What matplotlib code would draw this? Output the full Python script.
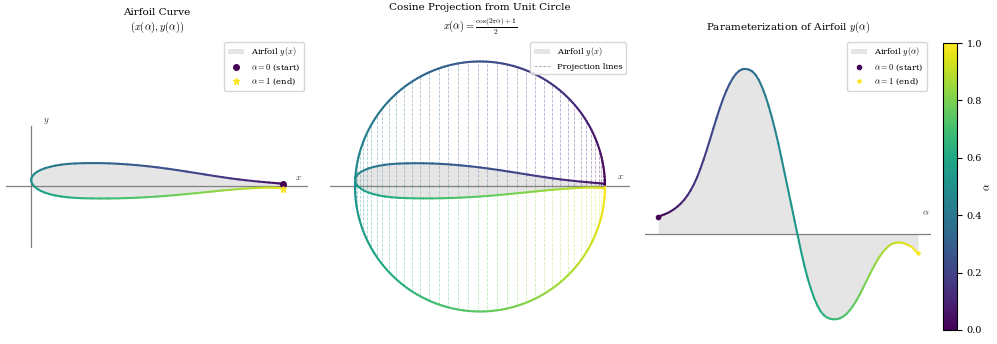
import numpy as np
import matplotlib
matplotlib.use("Agg")
import matplotlib.pyplot as plt
from matplotlib.collections import LineCollection
from matplotlib.cm import ScalarMappable
from matplotlib.colors import Normalize

plt.rcParams["font.family"] = "serif"
plt.rcParams["mathtext.fontset"] = "cm"

# =========================
# DATA
# =========================

# curve parameter, step 0.0125
alpha = np.arange(81) / 80

# airfoil height y(alpha)
y_alpha = [
    0.0100, 0.0106, 0.0113, 0.0121, 0.0131, 0.0143, 0.0157, 0.0174, 0.0194, 0.0218,
    0.0247, 0.0281, 0.0321, 0.0368, 0.0420, 0.0476, 0.0535, 0.0595, 0.0654, 0.0710,
    0.0762, 0.0807, 0.0846, 0.0878, 0.0903, 0.0920, 0.0929, 0.0930, 0.0926, 0.0916,
    0.0897, 0.0868, 0.0828, 0.0780, 0.0723, 0.0659, 0.0588, 0.0511, 0.0426, 0.0339,
    0.0252, 0.0165, 0.0078, -0.0009, -0.0095, -0.0175, -0.0245, -0.0305, -0.0357, -0.0399,
    -0.0432, -0.0454, -0.0467, -0.0474, -0.0477, -0.0476, -0.0471, -0.0461, -0.0446, -0.0426,
    -0.0401, -0.0372, -0.0339, -0.0303, -0.0266, -0.0229, -0.0193, -0.0159, -0.0129, -0.0103,
    -0.0082, -0.0064, -0.0053, -0.0047, -0.0045, -0.0047, -0.0052, -0.0060, -0.0071, -0.0087,
    -0.0107,
]

N_PROJ = 80

cmap = plt.get_cmap("viridis")
FILL = dict(color="gray", alpha=0.2, lw=0)
AXIS = dict(color="#808080", lw=0.9)


def x_of(a):
    # x(alpha) = (cos(2 pi alpha) + 1) / 2, as in the chart title
    return (np.cos(2 * np.pi * np.asarray(a)) + 1) / 2


def colored_line(ax, x, y, a, lw=1.5):
    pts = np.column_stack([x, y]).reshape(-1, 1, 2)
    segs = np.concatenate([pts[:-1], pts[1:]], axis=1)
    a = np.asarray(a)
    lc = LineCollection(segs, colors=cmap((a[:-1] + a[1:]) / 2), linewidths=lw,
                        capstyle="round", joinstyle="round")
    ax.add_collection(lc)
    return lc


y_alpha = np.array(y_alpha)
x_alpha = x_of(alpha)

fig = plt.figure(figsize=(9.97, 3.44), dpi=100)

bottom, height = 0.0262, 0.8634
ax1 = fig.add_axes([0.006, bottom, 0.3029, height])
ax2 = fig.add_axes([0.331, bottom, 0.3009, height])
ax3 = fig.add_axes([0.647, bottom, 0.2869, height])
cax = fig.add_axes([0.9458, 0.0407, 0.014, 0.834])

# =========================
# PANEL 1 - airfoil curve
# =========================

ax1.fill(x_alpha, y_alpha, label="Airfoil $y(x)$", **FILL)
colored_line(ax1, x_alpha, y_alpha, alpha)
ax1.plot([-0.1, 1.1], [0, 0], zorder=0, **AXIS)
ax1.plot([0, 0], [-0.24, 0.24], zorder=0, **AXIS)
ax1.plot(x_alpha[0], y_alpha[0], "o", color=cmap(0.0), ms=4,
         label=r"$\alpha = 0$ (start)", zorder=5)
ax1.plot(x_alpha[-1], y_alpha[-1], "*", color=cmap(1.0), ms=4.5,
         label=r"$\alpha = 1$ (end)", zorder=5)
ax1.text(1.06, 0.037, "$x$", fontsize=6.5, color="#333333", ha="center", va="center")
ax1.text(0.061, 0.259, "$y$", fontsize=6.5, color="#333333", ha="center", va="center")
ax1.set_xlim(-0.1, 1.1)
ax1.set_ylim(-0.3, 0.3)
ax1.set_aspect("equal", adjustable="datalim")
ax1.set_title("Airfoil Curve\n$(x(\\alpha), y(\\alpha))$", fontsize=7.5)
ax1.legend(loc="upper right", fontsize=6)
ax1.axis("off")

# =========================
# PANEL 2 - cosine projection
# =========================

t = np.linspace(0, 1, 241)
colored_line(ax2, x_of(t), 0.5 * np.sin(2 * np.pi * t), t)

a_proj = np.linspace(0, 1, N_PROJ)
for i, a in enumerate(a_proj):
    ax2.plot([x_of(a), x_of(a)], [0, 0.5 * np.sin(2 * np.pi * a)],
             ls="--", lw=0.6, color=cmap(a), alpha=0.4, zorder=1,
             label="Projection lines" if i == 0 else None)

ax2.fill(x_alpha, y_alpha, label="Airfoil $y(x)$", zorder=2, **FILL)
colored_line(ax2, x_alpha, y_alpha, alpha)
ax2.plot([-0.1, 1.1], [0, 0], zorder=0, **AXIS)
ax2.text(1.06, 0.038, "$x$", fontsize=6.5, color="#333333", ha="center", va="center")
ax2.set_xlim(-0.1, 1.1)
ax2.set_ylim(-0.55, 0.55)
ax2.set_aspect("equal", adjustable="datalim")
ax2.set_title("Cosine Projection from Unit Circle\n"
              r"$x(\alpha) = \frac{\cos(2\pi\alpha) + 1}{2}$", fontsize=7.5)
h, l = ax2.get_legend_handles_labels()
ax2.legend([h[1], h[0]], [l[1], l[0]], loc="upper right", fontsize=6)
ax2.axis("off")

# =========================
# PANEL 3 - y(alpha)
# =========================

ax3.fill_between(alpha, y_alpha, 0, label=r"Airfoil $y(\alpha)$", **FILL)
colored_line(ax3, alpha, y_alpha, alpha)
ax3.axhline(0, zorder=0, **AXIS)
ax3.plot(alpha[0], y_alpha[0], "o", color=cmap(0.0), ms=3,
         label=r"$\alpha = 0$ (start)", zorder=5)
ax3.plot(alpha[-1], y_alpha[-1], "*", color=cmap(1.0), ms=3,
         label=r"$\alpha = 1$ (end)", zorder=5)
ax3.text(1.03, 0.012, r"$\alpha$", fontsize=6.5, color="#333333", ha="center", va="center")
ax3.set_xlim(-0.05, 1.05)
ax3.set_ylim(-0.0565, 0.1104)
ax3.set_title(r"Parameterization of Airfoil $y(\alpha)$", fontsize=7.5)
ax3.legend(loc="upper right", fontsize=6)
ax3.axis("off")

# =========================
# COLORBAR
# =========================

sm = ScalarMappable(norm=Normalize(0, 1), cmap=cmap)
cb = fig.colorbar(sm, cax=cax)
cb.set_label(r"$\alpha$", fontsize=7.5, labelpad=1)
cb.ax.tick_params(labelsize=7)

fig.savefig("out.png", dpi=100)
